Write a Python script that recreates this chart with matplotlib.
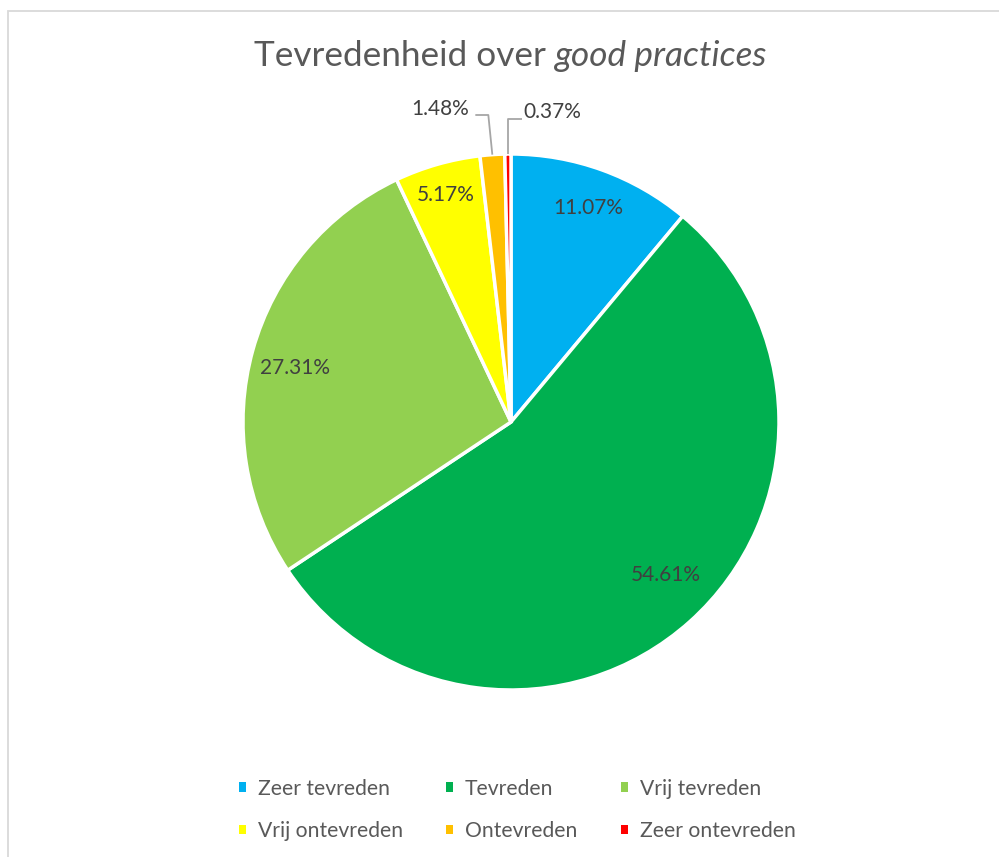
import numpy as np
import matplotlib.pyplot as plt
from matplotlib.patches import Patch, Rectangle

plt.rcParams['font.family'] = ['Lato', 'DejaVu Sans']

# data
categories = ['Zeer tevreden', 'Tevreden', 'Vrij tevreden',
              'Vrij ontevreden', 'Ontevreden', 'Zeer ontevreden']
percentages = [11.07, 54.61, 27.31, 5.17, 1.48, 0.37]
colors = ['#00B0F0', '#00B050', '#92D050', '#FFFF00', '#FFC000', '#FF0000']

W, H = 999, 857
fig = plt.figure(figsize=(W / 100, H / 100), dpi=100)
ax = fig.add_axes([0, 0, 1, 1])

cx, cy, R = 511, H - 422, 268
wedges, _ = ax.pie(percentages, colors=colors, startangle=90, counterclock=False,
                   center=(cx, cy), radius=R,
                   wedgeprops=dict(edgecolor='white', linewidth=2.5))
ax.set_xlim(0, W)
ax.set_ylim(0, H)
ax.set_aspect('equal')
ax.axis('off')

# data labels inside the slices, the two small ones outside with leader lines
label_r = [0.85, 0.81, 0.83, 0.88]
label_shift = [0, 3.5, 1.4, 0]  # degrees
label_fs = 15
total = sum(percentages)
cum = np.cumsum([0] + percentages)
for i, p in enumerate(percentages):
    mid = np.deg2rad(90 - (cum[i] + p / 2) / total * 360)
    txt = '%.2f%%' % p
    if i < 4:
        mid += np.deg2rad(label_shift[i])
        r = label_r[i] * R
        ax.text(cx + r * np.cos(mid), cy + r * np.sin(mid), txt,
                ha='center', va='center', fontsize=label_fs, color='#404040')
    else:
        x0, y0 = cx + R * np.cos(mid), cy + R * np.sin(mid)
        if i == 4:
            xs = [x0, x0 - 4, x0 - 17]
            ys = [y0, H - 115, H - 115]
            ax.text(x0 - 23, H - 109, txt, ha='right', va='center',
                    fontsize=label_fs, color='#404040')
        else:
            xs = [x0, x0, x0 + 14]
            ys = [y0, H - 119, H - 119]
            ax.text(x0 + 15, H - 112, txt, ha='left', va='center',
                    fontsize=label_fs, color='#404040')
        ax.plot(xs, ys, color='#a6a6a6', lw=1.3, solid_capstyle='butt')

# title: normal + italic part
fig.canvas.draw()
rend = fig.canvas.get_renderer()
t1 = fig.text(0, 0, 'Tevredenheid over ', fontsize=25.3, color='#595959', va='center')
t2 = fig.text(0, 0, 'good practices', fontsize=25.3, color='#595959',
              style='italic', va='center')
w1 = t1.get_window_extent(rend).width
w2 = t2.get_window_extent(rend).width
x_start = 511 - (w1 + w2) / 2
ty = 1 - 56 / H
t1.set_position((x_start / W, ty))
t2.set_position(((x_start + w1) / W, ty))

# legend
handles = [Patch(facecolor=c, edgecolor='none') for c in colors]
order = [0, 3, 1, 4, 2, 5]
fig.legend([handles[k] for k in order], [categories[k] for k in order],
           ncol=3, loc='center', bbox_to_anchor=(517 / W, 1 - 810 / H),
           frameon=False, fontsize=15.2, labelcolor='#595959',
           handlelength=0.35, handleheight=0.35, handletextpad=0.55,
           columnspacing=2.05, labelspacing=1.05)

# chart border (clipped at right and bottom)
fig.patches.append(Rectangle((7.5 / W, -0.01), 1.1, 1 - 10.5 / H + 0.01,
                             transform=fig.transFigure, fill=False,
                             edgecolor='#d9d9d9', lw=1.3))

fig.savefig('out.png', dpi=100)
